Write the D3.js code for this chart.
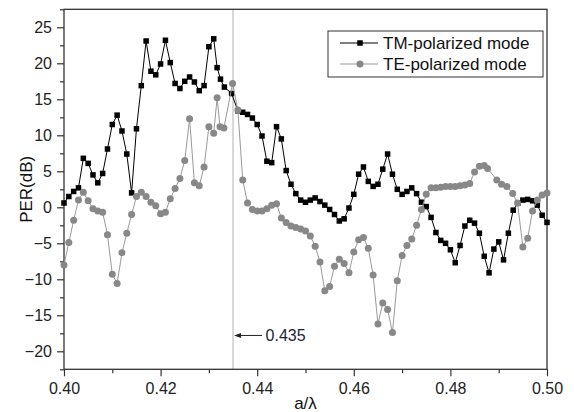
<!DOCTYPE html>
<html lang="en">
<head>
  <meta charset="UTF-8">
  <title>PER vs a/λ</title>
  <script src="https://d3js.org/d3.v7.min.js"></script>
  <style>
    body {
      margin: 0;
      background: #fff;
      font-family: "Liberation Sans", Arial, sans-serif;
    }

    .tick text {
      font-family: "Liberation Sans", Arial, sans-serif;
      font-size: 16px;
      fill: #222;
    }

    .tick line {
      stroke: #333;
      stroke-width: 1.2;
    }

    .axis-title {
      font-size: 17px;
      fill: #111;
    }

    .legend text {
      font-size: 17px;
      fill: #111;
    }
  </style>
</head>

<body>
  <div id="chart"></div>

  <script>
    // TM-polarized mode (black squares)
    const tmX = [0.400, 0.401, 0.402, 0.403, 0.404, 0.405, 0.406, 0.407, 0.408, 0.409,
      0.410, 0.411, 0.412, 0.413, 0.414, 0.415, 0.416, 0.417, 0.418, 0.419,
      0.420, 0.421, 0.422, 0.423, 0.424, 0.425, 0.426, 0.427, 0.428, 0.429,
      0.430, 0.431, 0.4317, 0.4324, 0.4332, 0.4347, 0.436, 0.437, 0.438, 0.439,
      0.440, 0.441, 0.442, 0.443, 0.444, 0.445, 0.446, 0.447, 0.448, 0.449,
      0.450, 0.451, 0.452, 0.453, 0.454, 0.455, 0.456, 0.457, 0.458, 0.459,
      0.460, 0.461, 0.462, 0.463, 0.464, 0.465, 0.466, 0.467, 0.468, 0.469,
      0.470, 0.471, 0.472, 0.473, 0.474, 0.475, 0.476, 0.477, 0.478, 0.479,
      0.480, 0.481, 0.482, 0.483, 0.484, 0.485, 0.486, 0.487, 0.488, 0.489,
      0.490, 0.491, 0.492, 0.493, 0.494, 0.495, 0.496, 0.497, 0.498, 0.499, 0.500];
    const tmY = [0.6, 1.5, 2.2, 2.7, 6.8, 6.1, 4.5, 3.4, 4.7, 8.1,
      11.5, 12.8, 10.6, 7.4, 2.0, 10.9, 16.9, 23.1, 18.9, 18.4,
      19.9, 23.2, 20.1, 17.2, 16.5, 17.5, 18.1, 17.4, 16.2, 16.9,
      22.3, 23.4, 19.4, 17.8, 16.7, 15.8, 13.4, 13.2, 12.9, 12.4,
      11.5, 9.9, 6.4, 6.2, 11.2, 9.5, 5.1, 3.2, 1.9, 1.0,
      0.7, 1.0, 1.3, 0.8, 0.3, -0.3, -1.0, -1.9, -1.6, -0.1,
      1.8, 4.6, 5.6, 3.6, 2.9, 3.2, 5.3, 7.4, 4.6, 2.5,
      1.8, 2.2, 2.7, 1.9, 0.7, 0.1, -1.4, -3.5, -4.6, -5.0,
      -5.9, -7.7, -5.3, -2.6, -1.8, -2.2, -3.6, -6.8, -9.1, -5.8,
      -4.8, -7.3, -3.6, -0.4, 0.6, 1.0, 1.1, 0.9, 0.3, -1.1, -2.1];

    // TE-polarized mode (grey circles)
    const teX = [0.400, 0.401, 0.402, 0.403, 0.404, 0.405, 0.406, 0.407, 0.408, 0.409,
      0.410, 0.411, 0.412, 0.413, 0.414, 0.415, 0.416, 0.417, 0.418, 0.419,
      0.420, 0.421, 0.422, 0.423, 0.424, 0.425, 0.426, 0.427, 0.428, 0.429,
      0.430, 0.431, 0.4317, 0.4323, 0.4331, 0.4349, 0.436, 0.437, 0.438, 0.439,
      0.440, 0.441, 0.442, 0.443, 0.444, 0.445, 0.446, 0.447, 0.448, 0.449,
      0.450, 0.451, 0.452, 0.453, 0.454, 0.455, 0.456, 0.457, 0.458, 0.459,
      0.460, 0.461, 0.462, 0.463, 0.464, 0.465, 0.466, 0.467, 0.468, 0.469,
      0.470, 0.471, 0.472, 0.473, 0.474, 0.475, 0.476, 0.477, 0.478, 0.479,
      0.480, 0.481, 0.482, 0.483, 0.484, 0.485, 0.486, 0.487, 0.4877, 0.4896,
      0.4906, 0.4917, 0.4929, 0.4939, 0.495, 0.496, 0.497, 0.498, 0.499, 0.500];
    const teY = [-8.0, -4.9, -1.8, 1.0, 2.1, 0.9, -0.2, -0.5, -0.7, -3.8,
      -9.3, -10.6, -6.3, -3.6, -1.0, 1.5, 2.1, 1.5, 0.7, 0.2,
      -0.9, -0.7, 1.2, 2.6, 4.0, 6.5, 12.3, 3.4, 3.0, 5.6,
      11.2, 10.3, 15.2, 11.2, 11.0, 17.2, 13.5, 3.8, 0.6, -0.3,
      -0.5, -0.5, -0.2, 0.3, 0.5, -1.5, -2.1, -2.6, -2.8, -3.0,
      -3.3, -4.0, -5.4, -7.6, -11.6, -11.0, -8.2, -7.2, -7.8, -9.1,
      -6.2, -4.5, -4.2, -5.7, -9.4, -16.2, -13.3, -14.2, -17.4, -10.2,
      -6.7, -5.3, -4.4, -2.5, -0.3, 1.8, 2.7, 2.7, 2.8, 2.9,
      2.9, 2.9, 3.0, 3.1, 3.3, 4.9, 5.7, 5.8, 5.4, 3.8,
      3.2, 2.9, 1.9, 0.6, -5.5, -4.3, -0.5, 1.0, 1.7, 2.0];

    const xTicks = [0.40, 0.42, 0.44, 0.46, 0.48, 0.50];
    const xMinorTicks = [0.41, 0.43, 0.45, 0.47, 0.49];
    const yTicks = [-20, -15, -10, -5, 0, 5, 10, 15, 20, 25];
    const yMinorTicks = [-22.5, -17.5, -12.5, -7.5, -2.5, 2.5, 7.5, 12.5, 17.5, 22.5, 27.5];
    const markX = 0.435;
    const markY = -17.8;

    const seriesNames = ["TM-polarized mode", "TE-polarized mode"];

    const W = 574, H = 412;
    const plot = { left: 64, right: 547, top: 9.3, bottom: 369.3 };

    const svg = d3.select("#chart").append("svg")
      .attr("width", W)
      .attr("height", H);

    const x = d3.scaleLinear().domain([0.40, 0.50]).range([plot.left, plot.right]);
    const y = d3.scaleLinear().domain([-22.5, 27.5]).range([plot.bottom, plot.top]);

    // axes
    const xAxis = svg.append("g")
      .attr("transform", `translate(0,${plot.bottom})`)
      .call(d3.axisBottom(x).tickValues(xTicks).tickSize(7).tickPadding(6).tickFormat(d3.format(".2f")));
    const xMinor = svg.append("g")
      .attr("transform", `translate(0,${plot.bottom})`)
      .call(d3.axisBottom(x).tickValues(xMinorTicks).tickSize(4).tickFormat(""));

    const yAxis = svg.append("g")
      .attr("transform", `translate(${plot.left},0)`)
      .call(d3.axisLeft(y).tickValues(yTicks).tickSize(7).tickPadding(5));
    const yMinor = svg.append("g")
      .attr("transform", `translate(${plot.left},0)`)
      .call(d3.axisLeft(y).tickValues(yMinorTicks).tickSize(4).tickFormat(""));

    [xAxis, xMinor, yAxis, yMinor].forEach(g => g.select(".domain").remove());

    // vertical marker line
    svg.append("line")
      .attr("x1", x(markX)).attr("x2", x(markX))
      .attr("y1", plot.top).attr("y2", plot.bottom)
      .attr("stroke", "#d4d4d4")
      .attr("stroke-width", 1.8);

    // frame
    svg.append("rect")
      .attr("x", plot.left)
      .attr("y", plot.top)
      .attr("width", plot.right - plot.left)
      .attr("height", plot.bottom - plot.top)
      .attr("fill", "none")
      .attr("stroke", "#333")
      .attr("stroke-width", 1.3);

    const tm = tmX.map((v, i) => ({ x: v, y: tmY[i] }));
    const te = teX.map((v, i) => ({ x: v, y: teY[i] }));

    const line = d3.line().x(d => x(d.x)).y(d => y(d.y));

    // TM series
    svg.append("path")
      .datum(tm)
      .attr("fill", "none")
      .attr("stroke", "#000")
      .attr("stroke-width", 1)
      .attr("d", line);

    svg.selectAll(".tm")
      .data(tm)
      .enter().append("rect")
      .attr("class", "tm")
      .attr("x", d => x(d.x) - 2.75)
      .attr("y", d => y(d.y) - 2.75)
      .attr("width", 5.5)
      .attr("height", 5.5)
      .attr("fill", "#000");

    // TE series
    svg.append("path")
      .datum(te)
      .attr("fill", "none")
      .attr("stroke", "#999")
      .attr("stroke-width", 1)
      .attr("d", line);

    svg.selectAll(".te")
      .data(te)
      .enter().append("circle")
      .attr("class", "te")
      .attr("cx", d => x(d.x))
      .attr("cy", d => y(d.y))
      .attr("r", 3.5)
      .attr("fill", "#888");

    // annotation arrow "0.435"
    const ax = x(markX), ay = y(markY);
    svg.append("line")
      .attr("x1", ax + 6).attr("x2", ax + 29)
      .attr("y1", ay).attr("y2", ay)
      .attr("stroke", "#222")
      .attr("stroke-width", 1);
    svg.append("path")
      .attr("d", `M${ax + 1},${ay} L${ax + 8},${ay - 2.5} L${ax + 8},${ay + 2.5} Z`)
      .attr("fill", "#222");
    svg.append("text")
      .attr("x", ax + 32.5)
      .attr("y", ay + 6)
      .attr("font-size", 16)
      .attr("fill", "#1c1c3a")
      .text(markX.toFixed(3));

    // axis titles
    svg.append("text")
      .attr("class", "axis-title")
      .attr("x", (plot.left + plot.right) / 2)
      .attr("y", 409)
      .attr("text-anchor", "middle")
      .text("a/λ");

    svg.append("text")
      .attr("class", "axis-title")
      .attr("transform", `translate(31.5,${(plot.top + plot.bottom) / 2}) rotate(-90)`)
      .attr("text-anchor", "middle")
      .text("PER(dB)");

    // legend
    const legend = svg.append("g").attr("class", "legend");
    legend.append("rect")
      .attr("x", 328).attr("y", 31)
      .attr("width", 215).attr("height", 46)
      .attr("fill", "#fff")
      .attr("stroke", "#333")
      .attr("stroke-width", 1);

    const rows = [43, 64];
    rows.forEach((ry, i) => {
      legend.append("line")
        .attr("x1", 340).attr("x2", 378)
        .attr("y1", ry).attr("y2", ry)
        .attr("stroke", i === 0 ? "#000" : "#999")
        .attr("stroke-width", 1);
      if (i === 0) {
        legend.append("rect")
          .attr("x", 357.25).attr("y", ry - 2.75)
          .attr("width", 5.5).attr("height", 5.5)
          .attr("fill", "#000");
      } else {
        legend.append("circle")
          .attr("cx", 360).attr("cy", ry)
          .attr("r", 3.5)
          .attr("fill", "#888");
      }
      legend.append("text")
        .attr("x", 383)
        .attr("y", ry + 6)
        .text(seriesNames[i]);
    });
  </script>
</body>

</html>
